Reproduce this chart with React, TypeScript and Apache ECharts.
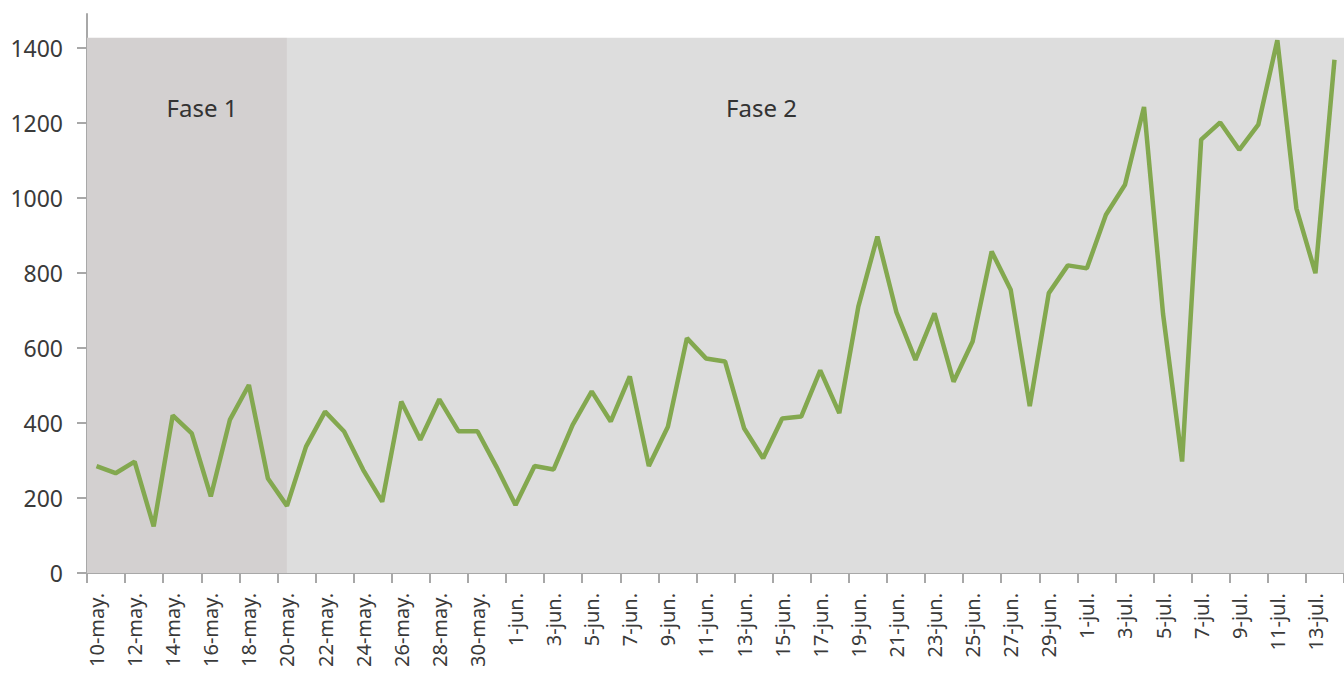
import React, { useEffect, useRef } from "react";
import * as echarts from "echarts";

const dates = [
  "10-may.", "11-may.", "12-may.", "13-may.", "14-may.", "15-may.", "16-may.", "17-may.", "18-may.", "19-may.",
  "20-may.", "21-may.", "22-may.", "23-may.", "24-may.", "25-may.", "26-may.", "27-may.", "28-may.", "29-may.",
  "30-may.", "31-may.", "1-jun.", "2-jun.", "3-jun.", "4-jun.", "5-jun.", "6-jun.", "7-jun.", "8-jun.",
  "9-jun.", "10-jun.", "11-jun.", "12-jun.", "13-jun.", "14-jun.", "15-jun.", "16-jun.", "17-jun.", "18-jun.",
  "19-jun.", "20-jun.", "21-jun.", "22-jun.", "23-jun.", "24-jun.", "25-jun.", "26-jun.", "27-jun.", "28-jun.",
  "29-jun.", "30-jun.", "1-jul.", "2-jul.", "3-jul.", "4-jul.", "5-jul.", "6-jul.", "7-jul.", "8-jul.",
  "9-jul.", "10-jul.", "11-jul.", "12-jul.", "13-jul.", "14-jul.",
];

const values = [
  285, 266, 297, 124, 420, 372, 204, 408, 501, 252,
  179, 337, 430, 377, 275, 190, 457, 355, 463, 378,
  378, 283, 181, 285, 276, 395, 484, 404, 524, 285,
  390, 626, 572, 564, 386, 306, 412, 417, 540, 426,
  710, 897, 695, 568, 692, 510, 617, 857, 755, 445,
  746, 820, 812, 955, 1035, 1242, 690, 297, 1155, 1201,
  1128, 1195, 1420, 972, 799, 1368,
];

const yTicks = [0, 200, 400, 600, 800, 1000, 1200, 1400];
const yMax = 1490;

const phaseNames = ["Fase 1", "Fase 2"];
const phaseStart = [-0.5, 10];
const phaseEnd = [10, 65.5];
const phaseTop = 1427;

export default function App() {
  const ref = useRef<HTMLDivElement>(null);

  useEffect(() => {
    if (!ref.current) return;
    const chart = echarts.init(ref.current, null, { renderer: "svg" });

    const labelPositions = dates.map((_, i) => i).filter((i) => i % 2 === 0);
    const tickPositions = [...dates.map((_, i) => i - 0.5).filter((_, i) => i % 2 === 0), dates.length - 0.5];

    const phaseColors = ["#d3d0d0", "#dddddd"];
    const phaseOffsets = [[15, 0], [-54, 0]];

    chart.setOption({
      animation: false,
      backgroundColor: "#ffffff",
      grid: { left: 87, top: 14, width: 1264, height: 559 },
      xAxis: {
        type: "value",
        min: -0.5,
        max: dates.length - 0.5,
        splitLine: { show: false },
        axisLine: { show: true, onZero: false, lineStyle: { color: "#a8a8a8", width: 2 } },
        axisTick: { show: true, length: 10, customValues: tickPositions, lineStyle: { color: "#a8a8a8", width: 2 } },
        axisLabel: {
          customValues: labelPositions,
          rotate: 90,
          margin: 20,
          fontSize: 20,
          fontFamily: "Noto Sans",
          color: "#3a3a3a",
          formatter: (v: number) => dates[Math.round(v)] ?? "",
        },
      },
      yAxis: {
        type: "value",
        min: 0,
        max: yMax,
        splitLine: { show: false },
        axisLine: { show: true, onZero: false, lineStyle: { color: "#a8a8a8", width: 2 } },
        axisTick: { show: true, length: 10, customValues: yTicks, lineStyle: { color: "#a8a8a8", width: 2 } },
        axisLabel: {
          customValues: yTicks,
          margin: 24,
          fontSize: 23,
          fontFamily: "Noto Sans",
          color: "#3a3a3a",
          formatter: (v: number) => String(v),
        },
      },
      series: [
        {
          type: "line",
          data: values.map((v, i) => [i, v]),
          symbol: "none",
          lineStyle: { color: "#83a84f", width: 4.5 },
          markArea: {
            silent: true,
            data: phaseNames.map((name, k) => [
              {
                name,
                xAxis: phaseStart[k],
                yAxis: 0,
                itemStyle: { color: phaseColors[k], opacity: 1 },
                label: { offset: phaseOffsets[k] },
              },
              { xAxis: phaseEnd[k], yAxis: phaseTop },
            ]),
            label: {
              show: true,
              position: "insideTop",
              distance: 58,
              fontSize: 24,
              fontFamily: "Noto Sans",
              color: "#333333",
            },
          },
        },
      ],
    });

    return () => chart.dispose();
  }, []);

  return (
    <div
      ref={ref}
      style={{ position: "absolute", left: 0, top: 0, width: 1344, height: 673 }}
    />
  );
}
